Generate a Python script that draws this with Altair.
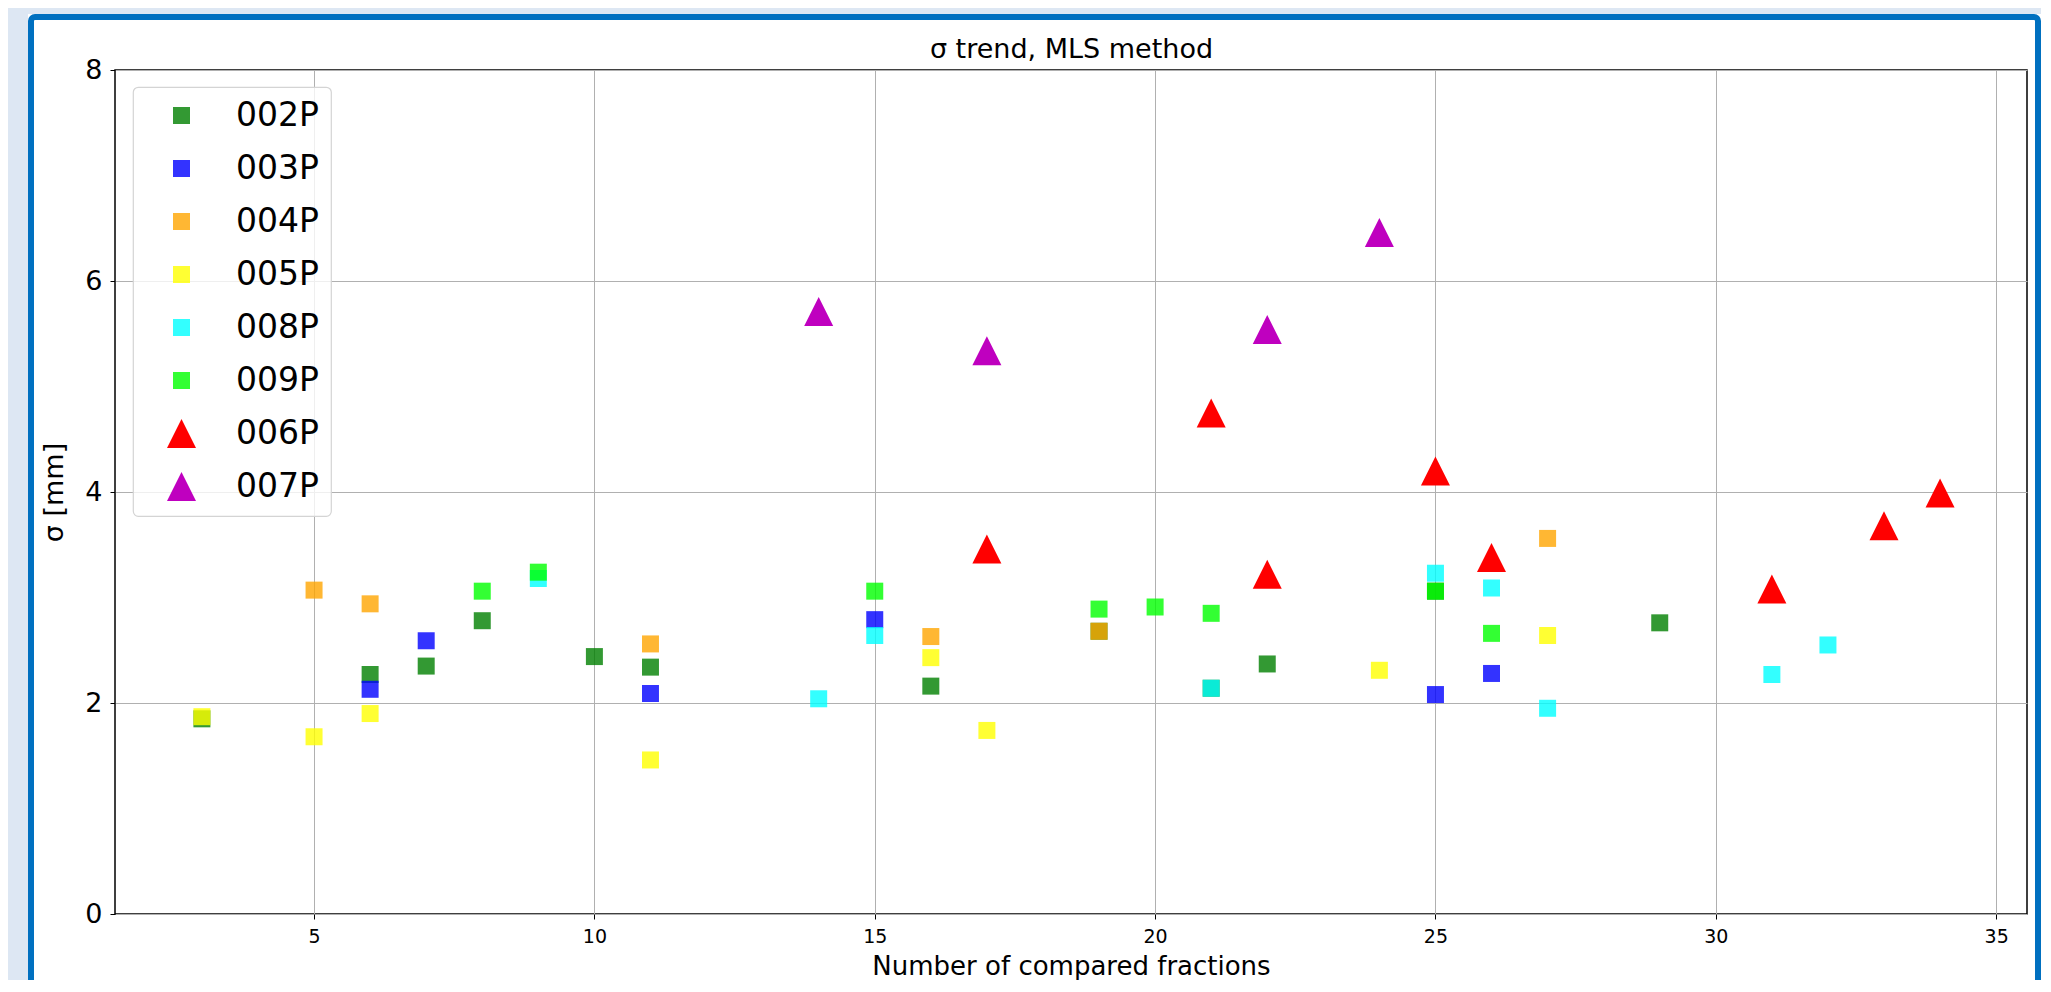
import altair as alt
import pandas as pd

# ---- series definitions (legend order = drawing order) ----
SERIES = ["002P", "003P", "004P", "005P", "008P", "009P", "006P", "007P"]
COLORS = ["#008000", "#0000ff", "#ffa500", "#ffff00", "#00ffff", "#00ff00", "#ff0000", "#bf00bf"]
OPACITY = [0.8, 0.8, 0.8, 0.8, 0.8, 0.8, 1.0, 1.0]
TRIANGLE = "M0,-1L-1,1L1,1Z"
SHAPES = ["square"] * 6 + [TRIANGLE] * 2
SIZES = [289] * 6 + [841] * 2

# ---- values ----
x_002P = [3, 6, 7, 8, 10, 11, 16, 19, 21, 22, 25, 29]
y_002P = [1.85, 2.27, 2.35, 2.78, 2.44, 2.34, 2.16, 2.68, 2.14, 2.37, 3.06, 2.76]
x_003P = [6, 7, 11, 15, 25, 26]
y_003P = [2.13, 2.59, 2.09, 2.79, 2.08, 2.28]
x_004P = [5, 6, 11, 16, 19, 27]
y_004P = [3.07, 2.94, 2.56, 2.63, 2.68, 3.56]
x_005P = [3, 5, 6, 11, 16, 17, 24, 27]
y_005P = [1.87, 1.68, 1.90, 1.46, 2.43, 1.74, 2.31, 2.64]
x_008P = [9, 14, 15, 21, 25, 26, 27, 31, 32]
y_008P = [3.18, 2.04, 2.64, 2.14, 3.23, 3.09, 1.95, 2.27, 2.55]
x_009P = [8, 9, 15, 19, 20, 21, 25, 26]
y_009P = [3.06, 3.24, 3.06, 2.89, 2.91, 2.85, 3.06, 2.66]
x_006P = [17, 21, 22, 25, 26, 31, 33, 34]
y_006P = [3.46, 4.75, 3.22, 4.20, 3.38, 3.08, 3.68, 3.99]
x_007P = [14, 17, 22, 24]
y_007P = [5.71, 5.34, 5.54, 6.46]

X_TICKS = [5, 10, 15, 20, 25, 30, 35]
Y_TICKS = [0, 2, 4, 6, 8]

xs = [x_002P, x_003P, x_004P, x_005P, x_008P, x_009P, x_006P, x_007P]
ys = [y_002P, y_003P, y_004P, y_005P, y_008P, y_009P, y_006P, y_007P]

rows = []
for name, xv, yv in zip(SERIES, xs, ys):
    for a, b in zip(xv, yv):
        rows.append({"series": name, "n": a, "sigma": b})
df = pd.DataFrame(rows)

FONT = "DejaVu Sans"
W, H = 1912, 844
XSCALE = alt.Scale(domain=[1.45, 35.55], nice=False, zero=False)
LEGEND_FONT = 33

# ---- decorative page frame (light-blue surround + blue border) ----
one = pd.DataFrame({"k": [0]})
surround = alt.Chart(one).mark_rect(
    fillOpacity=0, stroke="#dde7f3", strokeWidth=200
).encode(
    x=alt.value(-187), x2=alt.value(2026), y=alt.value(-156), y2=alt.value(1100)
)
frame = alt.Chart(one).mark_rect(
    fillOpacity=0, stroke="#0070c0", strokeWidth=6, cornerRadius=4
).encode(
    x=alt.value(-84), x2=alt.value(1923), y=alt.value(-53), y2=alt.value(1000)
)

LEG = alt.Legend(
    title=None,
    orient="none",
    legendX=18,
    legendY=17,
    labelFontSize=LEGEND_FONT,
    labelFont=FONT,
    labelColor="black",
    padding=12,
    rowPadding=19,
    symbolOffset=20,
    labelOffset=38,
    fillColor="rgba(255,255,255,0.8)",
    strokeColor="#d4d4d4",
    cornerRadius=5,
    symbolStrokeWidth=0,
)

points = alt.Chart(df).mark_point(filled=True, strokeWidth=0).encode(
    x=alt.X(
        "n:Q",
        scale=XSCALE,
        axis=alt.Axis(
            values=X_TICKS,
            title="Number of compared fractions",
            labelFontSize=19,
            titleFontSize=26,
            tickSize=5,
            labelPadding=8,
            titlePadding=7,
            grid=True,
        ),
    ),
    y=alt.Y(
        "sigma:Q",
        scale=alt.Scale(domain=[0, 8], nice=False),
        axis=alt.Axis(
            values=Y_TICKS,
            title="σ [mm]",
            labelFontSize=27,
            titleFontSize=27,
            tickSize=5,
            labelPadding=8,
            titlePadding=16,
            grid=True,
        ),
    ),
    color=alt.Color("series:N", scale=alt.Scale(domain=SERIES, range=COLORS), legend=LEG),
    shape=alt.Shape("series:N", scale=alt.Scale(domain=SERIES, range=SHAPES), legend=LEG),
    size=alt.Size("series:N", scale=alt.Scale(type="ordinal", domain=SERIES, range=SIZES), legend=LEG),
    opacity=alt.Opacity("series:N", scale=alt.Scale(type="ordinal", domain=SERIES, range=OPACITY), legend=LEG),
)

# chart title carried by a top axis so it sits right above the plot area
title_layer = alt.Chart(df).mark_point(opacity=0).encode(
    x=alt.X(
        "n:Q",
        scale=XSCALE,
        axis=alt.Axis(
            orient="top",
            title="σ trend, MLS method",
            titleFontSize=27,
            titlePadding=13,
            titleBaseline="alphabetic",
            labels=False,
            ticks=False,
            domain=False,
            grid=False,
        ),
    )
)

chart = alt.layer(surround, frame, points, title_layer).resolve_axis(
    x="independent"
).properties(
    width=W,
    height=H,
    padding={"left": 107, "top": 62, "right": 14, "bottom": 66},
    autosize=alt.AutoSizeParams(type="none"),
).configure(
    background="white",
    font=FONT,
).configure_view(
    stroke="black", strokeWidth=1.5
).configure_axis(
    labelFont=FONT,
    titleFont=FONT,
    labelColor="black",
    titleColor="black",
    titleFontWeight="normal",
    tickColor="black",
    domain=False,
    gridColor="#b0b0b0",
    gridWidth=1,
    zindex=1,
).configure_legend(
    strokeWidth=1.2,
    labelFontSize=LEGEND_FONT,
    labelFont=FONT,
    labelLimit=400,
)

chart.save("out.html", embed_options={"renderer": "svg", "actions": False})
